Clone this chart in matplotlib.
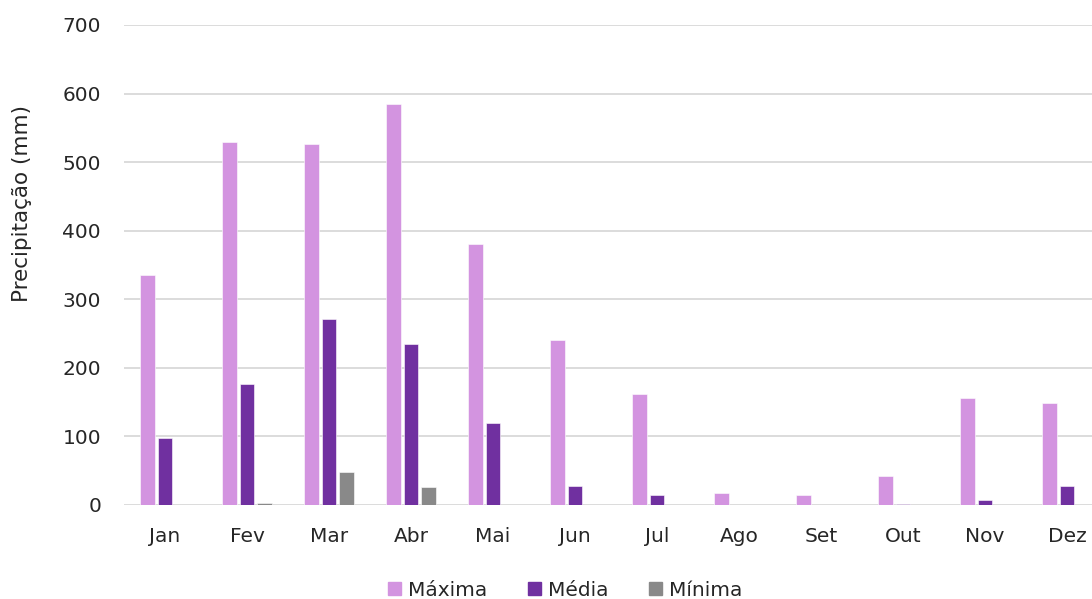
import matplotlib
matplotlib.use("Agg")
import matplotlib.pyplot as plt
import numpy as np

plt.rcParams['font.family'] = ['DejaVu Sans']

months = ["Jan", "Fev", "Mar", "Abr", "Mai", "Jun", "Jul", "Ago", "Set", "Out", "Nov", "Dez"]
maxima = [335, 530, 526, 585, 381, 240, 162, 17, 14, 42, 156, 149]
media = [97, 176, 271, 235, 120, 28, 14, 0.5, 0, 2, 8, 28]
minima = [0, 3, 48, 26, 0, 0, 0, 0, 0, 0.5, 0, 0]
series_names = ["Máxima", "Média", "Mínima"]
colors = ["#D394E0", "#7030A0", "#898989"]
yticks = [0, 100, 200, 300, 400, 500, 600, 700]

W, H = 1092, 599
fig = plt.figure(figsize=(W / 100, H / 100), dpi=100)
left, right, bottom, top = 124, 1108, 505, 25
ax = fig.add_axes([left / W, 1 - bottom / H, (right - left) / W, (bottom - top) / H])

x = np.arange(len(months))
step = 0.219
width = 0.182
for i, (vals, name, c) in enumerate(zip([maxima, media, minima], series_names, colors)):
    ax.bar(x + (i - 1) * step, vals, width=width, color=c, label=name,
           edgecolor='white', linewidth=0.4, zorder=3)

fs = 14.5
tc = '#262626'
ax.set_xlim(-0.5, len(months) - 0.5)
ax.set_ylim(0, 700)
ax.set_yticks(yticks)
ax.set_yticklabels([str(t) for t in yticks], fontsize=fs, color=tc)
ax.set_xticks(x)
ax.set_xticklabels(months, fontsize=fs, color=tc)
ax.tick_params(axis='both', length=0)
ax.tick_params(axis='y', pad=16.5)
ax.tick_params(axis='x', pad=16)
ax.grid(axis='y', color='#D9D9D9', linewidth=1.3, zorder=0)
for s in ax.spines.values():
    s.set_visible(False)

fig.text(22 / W, 1 - 204 / H, "Precipitação (mm)", rotation=90, ha='center', va='center',
         fontsize=15.5, color=tc)

handles = [plt.Rectangle((0, 0), 1, 1, color=c) for c in colors]
fig.legend(handles, series_names, loc='center', bbox_to_anchor=(565 / W, 1 - 590 / H),
           ncol=3, frameon=False, fontsize=fs, handlelength=0.65, handleheight=0.65,
           handletextpad=0.35, columnspacing=2.0, labelcolor=tc)

fig.savefig("out.png", dpi=100)
